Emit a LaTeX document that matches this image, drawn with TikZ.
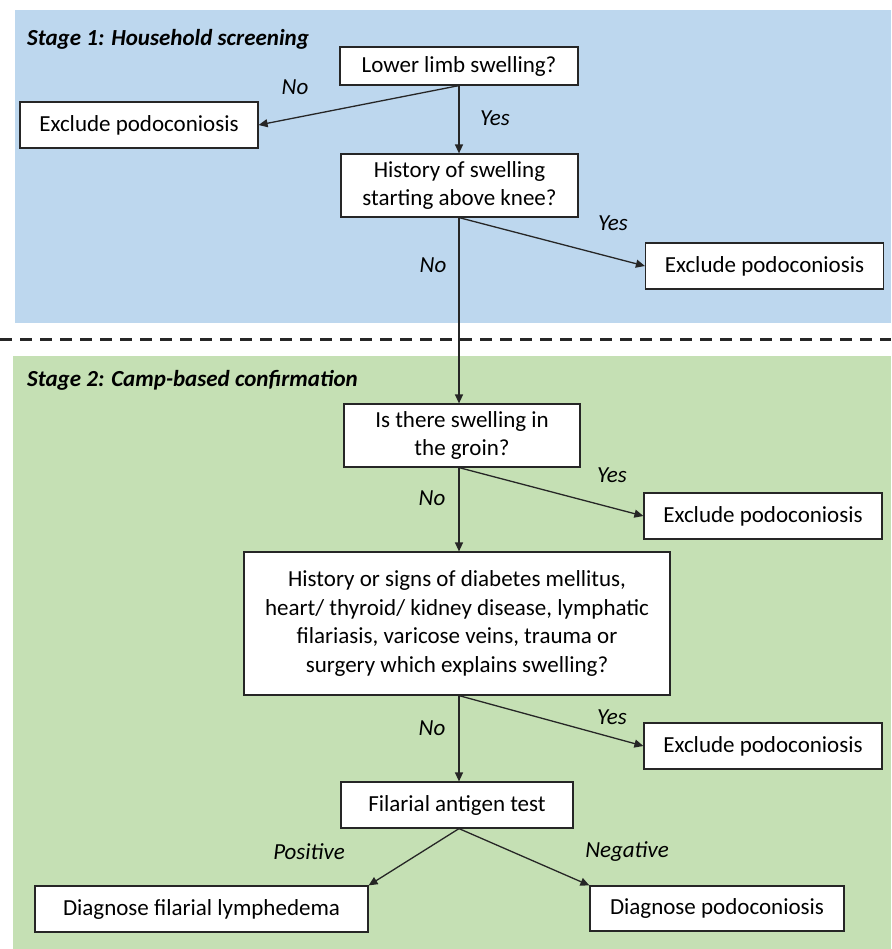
\documentclass[tikz,border=0pt]{standalone}
\usepackage{fontspec}
\setmainfont{Carlito}
\usepackage{xcolor}
\usetikzlibrary{arrows.meta, positioning, backgrounds}
\definecolor{stageblue}{RGB}{189,215,238}
\definecolor{stagegreen}{RGB}{197,224,180}

\begin{document}
\begin{tikzpicture}[
  x = 1pt, y = -1pt,
  box/.style = {rectangle, draw=black!85, line width=1.2pt, fill=white, align=center,
                font=\fontsize{23}{28.5}\selectfont, inner sep=0pt},
  exbox/.style = {box, minimum width=238pt, minimum height=46pt},
  lbl/.style = {font=\fontsize{23}{27}\selectfont\itshape, inner sep=0pt},
  stagelbl/.style = {font=\fontsize{23}{28}\selectfont\bfseries\itshape, anchor=west, inner sep=0pt},
  arr/.style = {-{Triangle[length=9pt,width=8pt]}, line width=1.3pt, draw=black!85}
]
  \useasboundingbox (0,0) rectangle (891,949);

  % stage 1
  \node[box, minimum width=238pt, minimum height=38pt] (limb) at (459,66) {Lower limb swelling?};
  \node[exbox] (exA) at (139,125) {Exclude podoconiosis};
  \node[box, minimum width=237pt, minimum height=63pt] (knee) at (459.5,185.5) {History of swelling\\starting above knee?};
  \node[exbox] (exB) at (764.5,266) {Exclude podoconiosis};

  % stage 2
  \node[box, minimum width=236pt, minimum height=63pt] (groin) at (462,435.5) {Is there swelling in\\the groin?};
  \node[exbox] (exC) at (763,516) {Exclude podoconiosis};
  \node[box, minimum width=426pt, minimum height=143pt] (hist) at (457,623.5)
       {History or signs of diabetes mellitus,\\heart/ thyroid/ kidney disease, lymphatic\\filariasis, varicose veins, trauma or\\surgery which explains swelling?};
  \node[exbox] (exD) at (763,746) {Exclude podoconiosis};
  \node[box, minimum width=232pt, minimum height=46pt] (antigen) at (457,805) {Filarial antigen test};
  \node[box, minimum width=333pt, minimum height=46pt] (lymph) at (201.5,909) {Diagnose filarial lymphedema};
  \node[box, minimum width=254pt, minimum height=45pt] (podo) at (717,908.5) {Diagnose podoconiosis};

  \draw[arr] (limb.south) -- (exA.east);
  \draw[arr] (limb.south) -- (knee.north -| limb.south);
  \draw[arr] (knee.south -| limb.south) -- (exB.west);
  \draw[arr] (knee.south -| limb.south) -- (groin.north -| limb.south);
  \draw[arr] (groin.south -| limb.south) -- (exC.west);
  \draw[arr] (groin.south -| limb.south) -- (hist.north -| limb.south);
  \draw[arr] (hist.south -| limb.south) -- (exD.west);
  \draw[arr] (hist.south -| limb.south) -- (antigen.north -| limb.south);
  \draw[arr] (antigen.south -| limb.south) -- (lymph.north east);
  \draw[arr] (antigen.south -| limb.south) -- (podo.north west);

  \node[lbl] (noA)  at (295,87)  {No};
  \node[lbl] (yesA) at (495,118) {Yes};
  \node[lbl] (yesB) at (613,223) {Yes};
  \node[lbl] (noB)  at (433,265) {No};
  \node[lbl] (yesC) at (612,475) {Yes};
  \node[lbl] (noC)  at (432,498) {No};
  \node[lbl] (yesD) at (612,717) {Yes};
  \node[lbl] (noD)  at (432,728) {No};
  \node[lbl] (pos)  at (309,852) {Positive};
  \node[lbl] (neg)  at (627,852) {Negative};

  \node[stagelbl] (stageA) at (27,39)  {Stage 1: Household screening};
  \node[stagelbl] (stageB) at (27,380) {Stage 2: Camp-based confirmation};

  \begin{scope}[on background layer]
    \fill[stageblue]  (15,10)  rectangle (891,323);
    \fill[stagegreen] (13,356) rectangle (891,949);
    \draw[line width=3pt, dash pattern=on 12pt off 8pt, black!85] (0,339) -- (891,339);
  \end{scope}
\end{tikzpicture}
\end{document}
